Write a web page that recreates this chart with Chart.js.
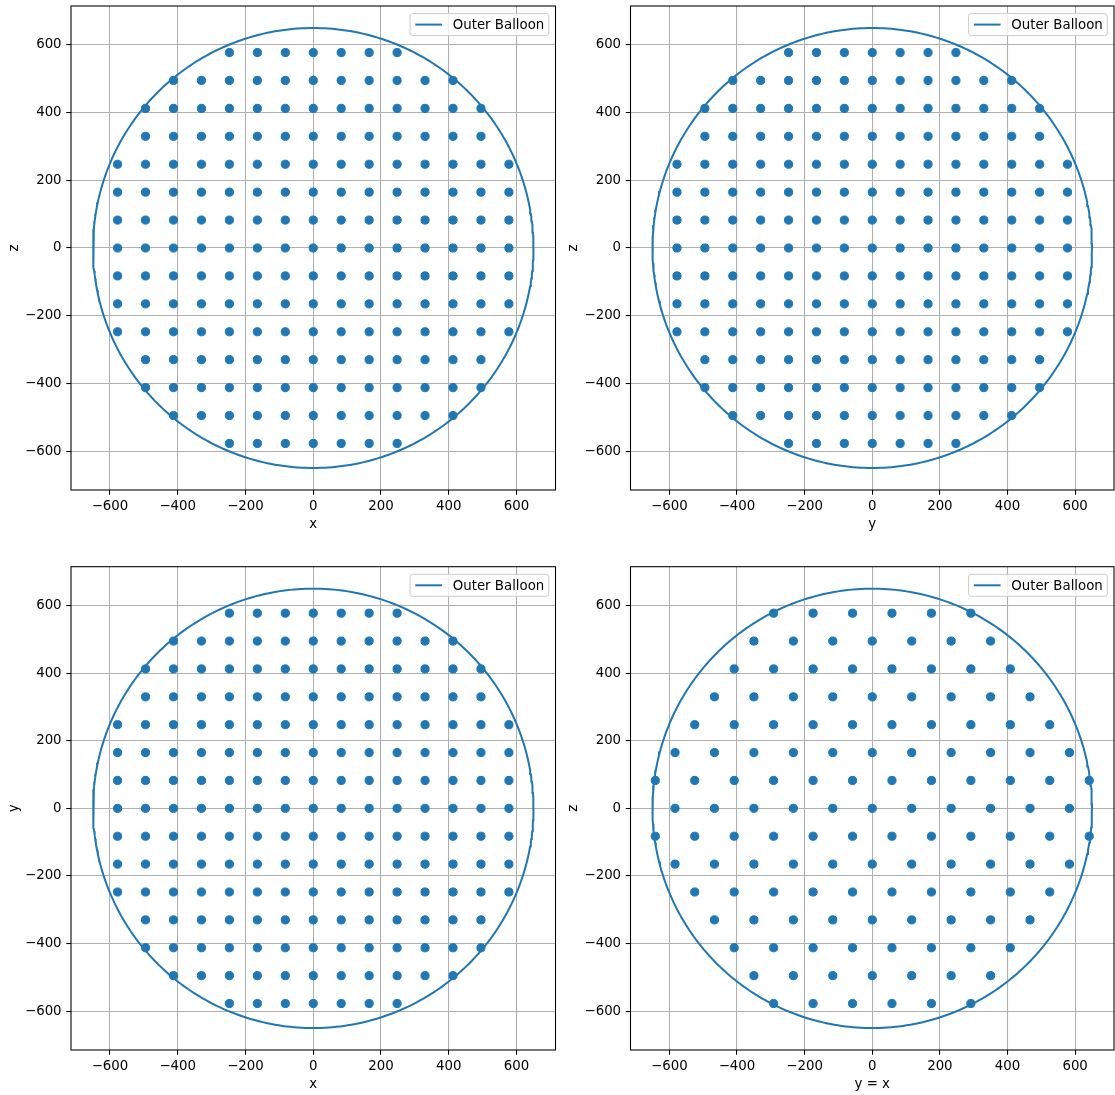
<!DOCTYPE html>
<html><head><meta charset="utf-8">
<script src="https://cdn.jsdelivr.net/npm/chart.js@4.4.1/dist/chart.umd.min.js"></script>
<style>
html,body{margin:0;padding:0;background:#fff;width:1115px;height:1095px;overflow:hidden;position:relative;}
canvas{position:absolute;}
</style></head><body>
<canvas id="c1"></canvas>
<canvas id="c2"></canvas>
<canvas id="c3"></canvas>
<canvas id="c4"></canvas>
<script>
// ---- data ----
const balloonRadius = 650;
const axisMin = -715, axisMax = 715;
const tickValues = [-600, -400, -200, 0, 200, 400, 600];
const rowLevels = [577.5, 495, 412.5, 330, 247.5, 165, 82.5, 0, -82.5, -165, -247.5, -330, -412.5, -495, -577.5];
const rowA = [-247.5, -165, -82.5, 0, 82.5, 165, 247.5];
const rowB = [-412.5, -330, -247.5, -165, -82.5, 0, 82.5, 165, 247.5, 330, 412.5];
const rowC = [-495, -412.5, -330, -247.5, -165, -82.5, 0, 82.5, 165, 247.5, 330, 412.5, 495];
const rowD = [-577.5, -495, -412.5, -330, -247.5, -165, -82.5, 0, 82.5, 165, 247.5, 330, 412.5, 495, 577.5];
const axisRows = [rowA, rowB, rowC, rowC, rowD, rowD, rowD, rowD, rowD, rowD, rowD, rowC, rowC, rowB, rowA];
const diagOdd5 = [-291.7, -175, -58.3, 58.3, 175, 291.7];
const diagEven6 = [-350, -233.3, -116.7, 0, 116.7, 233.3, 350];
const diagOdd7 = [-408.3, -291.7, -175, -58.3, 58.3, 175, 291.7, 408.3];
const diagEven8 = [-466.7, -350, -233.3, -116.7, 0, 116.7, 233.3, 350, 466.7];
const diagOdd9 = [-525, -408.3, -291.7, -175, -58.3, 58.3, 175, 291.7, 408.3, 525];
const diagEven10 = [-583.3, -466.7, -350, -233.3, -116.7, 0, 116.7, 233.3, 350, 466.7, 583.3];
const diagOdd11 = [-641.7, -525, -408.3, -291.7, -175, -58.3, 58.3, 175, 291.7, 408.3, 525, 641.7];
const diagRows = [diagOdd5, diagEven6, diagOdd7, diagEven8, diagOdd9, diagEven10, diagOdd11, diagEven10, diagOdd11, diagEven10, diagOdd9, diagEven8, diagOdd7, diagEven6, diagOdd5];
const xTitles = ['x', 'y', 'x', 'y = x'];
const yTitles = ['z', 'z', 'y', 'z'];
const legendLabel = 'Outer Balloon';

// ---- style / layout ----
const BLUE = '#1f77b4';
const FONT = '"DejaVu Sans", "Liberation Sans", sans-serif';
const FS = 13.33;
Chart.defaults.font.family = FONT;
Chart.defaults.font.size = FS;
Chart.defaults.color = '#000';

const panels = [
  {id: 'c1', left: 0,   top: 0,   w: 558, padTop: 6,   padRight: 2.5, yW: 71,   rows: axisRows},
  {id: 'c2', left: 559, top: 0,   w: 556, padTop: 6,   padRight: 1,   yW: 71.5, rows: axisRows},
  {id: 'c3', left: 0,   top: 560, w: 558, padTop: 6.7, padRight: 2.5, yW: 71,   rows: axisRows},
  {id: 'c4', left: 559, top: 560, w: 556, padTop: 6.7, padRight: 1,   yW: 71.5, rows: diagRows}
];
const CH = 545, XH = 55;

function fmt(v) { return v < 0 ? '\u2212' + Math.abs(v) : String(v); }

function toPoints(rows) {
  const pts = [];
  rows.forEach((xs, i) => xs.forEach(x => pts.push({x: x, y: rowLevels[i]})));
  return pts;
}
function circlePoints() {
  const pts = [];
  for (let a = 0; a <= 360; a += 1) {
    const t = a * Math.PI / 180;
    pts.push({x: balloonRadius * Math.cos(t), y: balloonRadius * Math.sin(t)});
  }
  return pts;
}

const framePlugin = {
  id: 'frame',
  afterDatasetsDraw(chart) {
    const {ctx, chartArea: a} = chart;
    ctx.save();
    // spines
    ctx.strokeStyle = '#000';
    ctx.lineWidth = 1.07;
    ctx.strokeRect(a.left, a.top, a.right - a.left, a.bottom - a.top);
    // legend
    ctx.font = FS + 'px ' + FONT;
    const tw = ctx.measureText(legendLabel).width;
    const bw = 42.7 + tw + 4.5, bh = 22;
    const bx = a.right - 6.7 - bw, by = a.top + 7.6;
    ctx.beginPath();
    if (ctx.roundRect) ctx.roundRect(bx, by, bw, bh, 2.7); else ctx.rect(bx, by, bw, bh);
    ctx.fillStyle = 'rgba(255,255,255,0.8)';
    ctx.fill();
    ctx.strokeStyle = '#cccccc';
    ctx.lineWidth = 1;
    ctx.stroke();
    const cy = by + bh / 2;
    ctx.beginPath();
    ctx.moveTo(bx + 5.3, cy); ctx.lineTo(bx + 32, cy);
    ctx.strokeStyle = BLUE; ctx.lineWidth = 2; ctx.stroke();
    ctx.fillStyle = '#000';
    ctx.textAlign = 'left';
    ctx.textBaseline = 'middle';
    ctx.fillText(legendLabel, bx + 42.7, cy + 1);
    ctx.restore();
  }
};

function scaleOpts(p, horizontal, title) {
  return {
    type: 'linear',
    min: axisMin, max: axisMax,
    afterBuildTicks: s => { s.ticks = tickValues.map(v => ({value: v})); },
    afterFit: s => {
      if (horizontal) { s.height = XH; s.paddingLeft = 0; s.paddingRight = 0; }
      else { s.width = p.yW; s.paddingTop = 0; s.paddingBottom = 0; }
    },
    border: {display: false},
    grid: {color: '#b0b0b0', lineWidth: 1.07, tickColor: '#000', tickWidth: 1.07, tickLength: 4.7, drawTicks: true},
    ticks: {
      color: '#000', padding: horizontal ? 4 : 4.7, maxRotation: 0, autoSkip: false,
      font: {family: FONT, size: FS},
      callback: v => fmt(v)
    },
    title: {
      display: true, text: title, color: '#000',
      font: {family: FONT, size: FS},
      padding: horizontal ? {top: 0, bottom: 12} : {top: 7, bottom: 0}
    }
  };
}

panels.forEach((p, i) => {
  const cv = document.getElementById(p.id);
  cv.width = p.w; cv.height = CH;
  cv.style.left = p.left + 'px'; cv.style.top = p.top + 'px';
  cv.style.width = p.w + 'px'; cv.style.height = CH + 'px';
  new Chart(cv.getContext('2d'), {
    type: 'scatter',
    data: {
      datasets: [
        {
          label: 'Points', data: toPoints(p.rows), order: 0,
          backgroundColor: BLUE, borderColor: BLUE,
          pointRadius: 4.1, pointBorderWidth: 1, pointHoverRadius: 4.1
        },
        {
          label: legendLabel, data: circlePoints(), order: 1,
          showLine: true, borderColor: BLUE, backgroundColor: BLUE,
          borderWidth: 2, pointRadius: 0, tension: 0, fill: false
        }
      ]
    },
    options: {
      responsive: false, maintainAspectRatio: false, animation: false,
      devicePixelRatio: 1,
      layout: {autoPadding: false, padding: {left: 0, top: p.padTop, right: p.padRight, bottom: 0}},
      plugins: {legend: {display: false}, tooltip: {enabled: false}, title: {display: false}},
      events: [],
      scales: {
        x: scaleOpts(p, true, xTitles[i]),
        y: scaleOpts(p, false, yTitles[i])
      }
    },
    plugins: [framePlugin]
  });
});
</script>
</body></html>
